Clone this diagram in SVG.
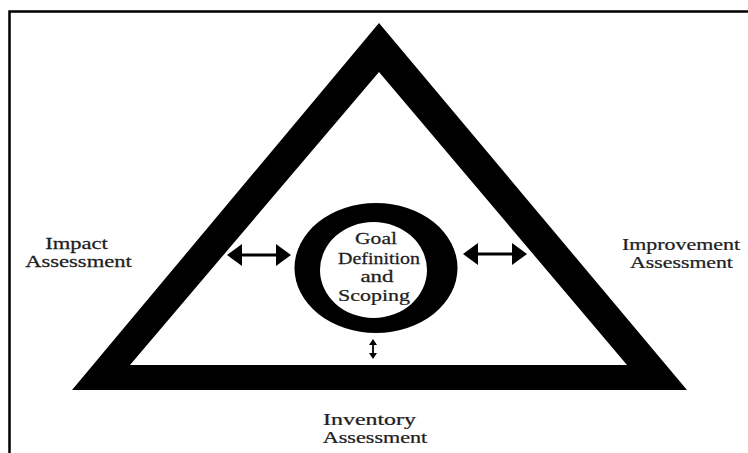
<svg xmlns="http://www.w3.org/2000/svg" width="748" height="453" viewBox="0 0 748 453">
<style>
.lbl{font-family:"Liberation Serif","Times New Roman",serif;font-size:16.5px;fill:#1e1e1e;stroke:#1e1e1e;stroke-width:0.25;text-anchor:middle}
.goal{font-family:"Liberation Serif","Times New Roman",serif;font-size:16.5px;fill:#1e1e1e;stroke:#1e1e1e;stroke-width:0.25;text-anchor:middle}
.shape{fill:#000;fill-rule:evenodd}
.arr{stroke:#000;stroke-width:3;fill:none}
.arr2{stroke:#000;stroke-width:1.8;fill:none}
</style>
<defs>
<marker id="head" viewBox="0 0 15 22" refX="5" refY="11" markerWidth="15" markerHeight="22" markerUnits="userSpaceOnUse" orient="auto-start-reverse">
<path d="M0,0 L15,11 L0,22 Z" fill="#000"/>
</marker>
<marker id="headSmall" viewBox="0 0 6 8" refX="2" refY="4" markerWidth="6" markerHeight="8" markerUnits="userSpaceOnUse" orient="auto-start-reverse">
<path d="M0,0 L6,4 L0,8 Z" fill="#000"/>
</marker>
</defs>
<rect x="0" y="0" width="748" height="453" fill="#fff"/>
<rect x="9.5" y="11.5" width="760" height="460" fill="none" stroke="#000" stroke-width="2.5"/>
<g id="triangle">
<path class="shape" d="M379,23 L687,390 L72,390 Z M379,72 L130,365 L627,365 Z"/>
</g>
<g id="goal">
<path class="shape" d="M294.5,268 a81.5,65 0 1,0 163,0 a81.5,65 0 1,0 -163,0 Z M320,270 a53.5,48 0 1,0 107,0 a53.5,48 0 1,0 -107,0 Z"/>
<text class="goal" transform="translate(376,244) scale(1.31,1)">Goal</text>
<text class="goal" transform="translate(379,264) scale(1.21,1)">Definition</text>
<text class="goal" transform="translate(377,282) scale(1.39,1)">and</text>
<text class="goal" transform="translate(374,301) scale(1.33,1)">Scoping</text>
</g>
<g id="impact">
<text class="lbl" transform="translate(76.5,249) scale(1.37,1)">Impact</text>
<text class="lbl" transform="translate(78.5,267) scale(1.37,1)">Assessment</text>
</g>
<g id="improvement">
<text class="lbl" transform="translate(681,250) scale(1.33,1)">Improvement</text>
<text class="lbl" transform="translate(681.5,268) scale(1.32,1)">Assessment</text>
</g>
<g id="inventory">
<text class="lbl" transform="translate(369.5,425) scale(1.45,1)">Inventory</text>
<text class="lbl" transform="translate(375,443) scale(1.34,1)">Assessment</text>
</g>
<g id="connectors">
<line class="arr" x1="237" y1="255" x2="281" y2="255" marker-start="url(#head)" marker-end="url(#head)"/>
<line class="arr" x1="473" y1="254" x2="517" y2="254" marker-start="url(#head)" marker-end="url(#head)"/>
<line class="arr2" x1="373" y1="343" x2="373" y2="355" marker-start="url(#headSmall)" marker-end="url(#headSmall)"/>
</g>
</svg>
